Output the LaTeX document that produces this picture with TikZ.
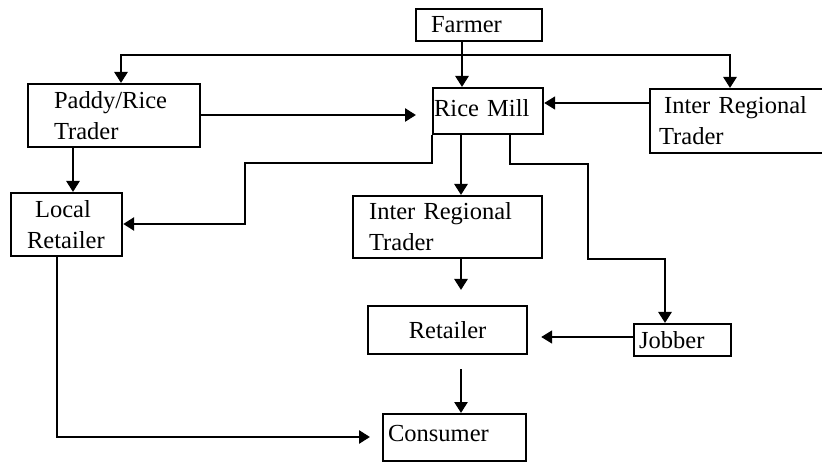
\documentclass[tikz,border=0pt]{standalone}
\usepackage{fontspec}
\setmainfont{Liberation Serif}
\usetikzlibrary{arrows.meta}
\begin{document}
\begin{tikzpicture}[x=1pt,y=-1pt,
 box/.style={draw,line width=2.2pt,anchor=north west,inner ysep=0pt,align=left,font=\fontsize{24.5}{31}\selectfont},
 arr/.style={line width=2.6pt,-{Triangle[length=11pt,width=13pt]}},
 thinarr/.style={arr,line width=1.8pt}]
\useasboundingbox (0,0) rectangle (822,462);
% boxes
\node[box,inner xsep=15pt,text width=96pt,minimum height=32pt] (farmer) at (415,8) {Farmer};
\node[box,inner xsep=26pt,text width=120pt,minimum height=63pt] (paddy) at (27,83) {Paddy/Rice\\Trader};
\node[box,inner xsep=1pt,text width=108pt,minimum height=46pt] (ricemill) at (432,87) {\raisebox{7pt}{Rice Mill}};
\node[box,inner xsep=9pt,text width=180pt,minimum height=64pt] (irt1) at (649,88) {\hspace*{5pt}Inter Regional\\Trader};
\node[box,inner xsep=16pt,text width=79pt,minimum height=63pt] (local) at (10,192) {\hspace*{8pt}Local\\Retailer};
\node[box,inner xsep=16pt,text width=157pt,minimum height=62pt] (irt2) at (352,195) {Inter Regional\\Trader};
\node[box,inner xsep=0pt,text width=159pt,align=center,minimum height=48pt] (retailer) at (367,305) {\raisebox{-5pt}{Retailer}};
\node[box,inner xsep=5pt,text width=87pt,minimum height=32pt] (jobber) at (633,323) {Jobber};
\node[box,inner xsep=5pt,text width=133pt,minimum height=47pt] (consumer) at (382,413) {\raisebox{8pt}{Consumer}};
% connectors
\coordinate (j) at (462,55);
\draw[arr] (farmer.south -| j) -- (ricemill.north -| j);
\draw[arr] (j) -| (paddy.north -| 121,0);
\draw[arr] (j) -| (irt1.north -| 730,0);
\draw[arr,shorten >=16pt] (paddy.east |- 0,115) -- (ricemill.west |- 0,115);
\draw[thinarr] (irt1.west |- 0,103) -- (ricemill.east |- 0,103);
\draw[arr] (paddy.south -| 73,0) -- (local.north -| 73,0);
\draw[arr] (ricemill.south west) -- (432,163) -| (245,224) -- (local.east |- 0,224);
\draw[arr] (ricemill.south -| 461,0) -- (irt2.north -| 461,0);
\draw[arr] (ricemill.south -| 510,0) |- (588,164) |- (665,259) -- (jobber.north -| 665,0);
\draw[arr,shorten >=15pt] (irt2.south -| 461,0) -- (retailer.north -| 461,0);
\draw[thinarr,shorten >=13pt] (jobber.west |- 0,337) -- (retailer.east |- 0,337);
\draw[arr,shorten <=14pt] (retailer.south -| 461,0) -- (consumer.north -| 461,0);
\draw[arr,shorten >=12pt] (local.south -| 57,0) |- (consumer.west |- 0,437);
\end{tikzpicture}
\end{document}
